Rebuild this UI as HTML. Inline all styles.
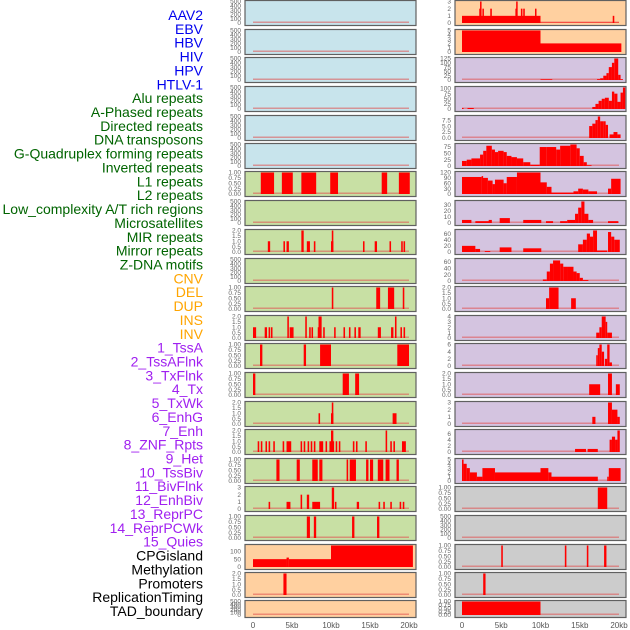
<!DOCTYPE html>
<html><head><meta charset="utf-8">
<style>
body{margin:0;background:#fff;}
svg{display:block;font-family:"Liberation Sans",sans-serif;}
</style></head>
<body>
<svg id="chart" width="630" height="630" viewBox="0 0 630 630" xmlns="http://www.w3.org/2000/svg">
<g id="labels" font-size="14" text-anchor="end"></g>
<g id="panels"></g>
<g id="xaxis" font-size="8" fill="#555" text-anchor="middle"></g>
</svg>
<script>
// ---- labels ----
const labelNames=["AAV2","EBV","HBV","HIV","HPV","HTLV-1","Alu repeats","A-Phased repeats","Directed repeats","DNA transposons","G-Quadruplex forming repeats","Inverted repeats","L1 repeats","L2 repeats","Low_complexity A/T rich regions","Microsatellites","MIR repeats","Mirror repeats","Z-DNA motifs","CNV","DEL","DUP","INS","INV","1_TssA","2_TssAFlnk","3_TxFlnk","4_Tx","5_TxWk","6_EnhG","7_Enh","8_ZNF_Rpts","9_Het","10_TssBiv","11_BivFlnk","12_EnhBiv","13_ReprPC","14_ReprPCWk","15_Quies","CPGisland","Methylation","Promoters","ReplicationTiming","TAD_boundary"];
const labelGroups=[6,13,5,15,5];
const groupColors=["#0000ee","#006400","#ffa500","#a020f0","#000000"];
// ---- x axis ----
const xTicks=[0,5,10,15,20];
const xTickLabels=["0","5kb","10kb","15kb","20kb"];
// ---- panel ticks ----
const T500=["0","100","200","300","400","500"];
const T1=["0.00","0.25","0.50","0.75","1.00"];
const T2=["0.0","0.5","1.0","1.5","2.0"];
// ---- left column data [startKb,endKb,value] ----
const L_L1=[[1,2.7,1],[3.7,5.1,1],[6.2,8.1,1],[9.9,10.9,1],[16.5,17.2,1],[18.7,20.1,1]];
const L_R8=[[1.9,2.2,1],[3.9,4.1,1],[4.3,4.6,1],[6.2,6.5,2],[6.9,7.3,1],[7.8,8.0,1],[10.0,10.3,1],[10.1,10.3,2],[14.1,14.3,1],[15.6,15.9,1],[17.5,17.7,1],[19.0,19.2,1],[19.3,19.5,1]];
const L_R10=[[10.1,10.3,1],[15.8,16.3,1],[17.3,18.1,1],[19.2,19.4,1]];
const L_R11=[[0,0.4,1],[1.5,1.8,1],[2.0,2.2,1],[2.3,2.5,1],[4.4,4.6,2],[4.7,5.2,1],[6.7,6.9,2],[7.2,7.4,1],[7.5,7.7,1],[8.3,8.6,1],[8.4,8.8,2],[9.0,9.2,1],[10.4,10.6,1],[11.6,11.8,1],[12.3,12.5,1],[13.0,13.2,1],[13.5,13.8,1],[16.0,16.4,1],[17.7,18.0,1],[18.2,18.4,2],[18.9,19.1,1],[19.3,19.5,1]];
const L_R12=[[0.9,1.2,1],[6.5,6.8,1],[8.6,10.0,1],[18.5,20.0,1]];
const L_R13=[[0,0.3,1],[11.5,12.3,1],[13.1,13.6,1]];
const L_R14=[[8.4,8.6,1],[10.1,10.3,2],[10.0,10.3,1],[17.9,18.4,1]];
const L_R15=[[0.6,0.8,1],[1.0,1.2,1],[1.6,1.8,1],[2.0,2.2,1],[2.6,2.8,1],[3.8,4.0,1],[4.3,4.9,1],[6.1,6.3,1],[6.5,6.7,1],[7.0,7.2,1],[7.4,7.6,1],[7.8,8.0,1],[8.5,9.0,1],[9.3,9.5,1],[9.8,10.4,1],[10.0,10.3,2],[10.6,10.8,1],[11.0,11.2,1],[12.8,13.0,1],[13.2,13.4,1],[14.4,14.6,1],[17.0,17.2,2],[17.6,17.8,1],[18.0,18.2,1],[19.1,19.6,1]];
const L_R16=[[3.0,3.4,1],[5.6,6.0,1],[7.6,8.3,1],[8.5,8.9,1],[12.0,12.2,1],[12.4,13.2,1],[14.5,14.8,1],[15.0,15.4,1],[16.0,16.7,1],[17.0,17.5,1],[18.4,18.7,1]];
const L_R17=[[2.0,2.2,1],[4.3,4.8,1],[6.1,6.3,2],[6.9,7.2,2],[7.6,8.6,1],[10.1,10.4,3],[10.5,10.7,1],[13.3,13.6,1],[16.1,16.3,1],[16.7,16.9,1],[17.6,17.8,1],[18.8,19.0,1],[19.2,19.4,1]];
const L_R18=[[6.9,7.3,1],[7.8,8.1,1],[12.7,13.0,1],[15.9,16.2,1]];
const L_Meth=[[0,4.3,50],[4.3,4.6,60],[4.6,10,50],[10,20.5,137]];
const L_Prom=[[3.9,4.3,2]];
// ---- right column data ----
const R_AAV=[[0,10,1],[2.2,2.3,2],[2.3,2.4,3],[2.6,2.7,2],[3.6,3.8,2],[6.8,7.0,2],[6.9,7.0,3],[7.5,7.7,2],[7.8,8.0,2],[9.3,9.4,2],[10,20,0.06],[19.2,19.4,1]];
const R_EBV=[[0,10,5],[10,20.3,2]];
const R_HIV=[[10,11.5,4],[17.2,17.6,5],[17.6,18.0,10],[18.0,18.4,25],[18.4,18.7,40],[18.7,19.1,75],[19.1,19.4,100],[19.4,19.9,125],[19.9,20.2,30],[20.2,20.5,5]];
const R_HPV=[[0,0.2,5],[0.7,1.5,5],[16.6,17.0,10],[17.0,17.4,25],[17.4,17.8,40],[17.8,18.2,50],[18.2,18.7,55],[18.7,19.1,40],[19.1,19.4,85],[19.4,19.8,75],[19.8,20.2,35],[20.2,20.5,80],[20.5,20.8,105]];
const R_Alu=[[16.2,16.6,5],[16.6,17.0,6],[17.0,17.3,7.5],[17.3,17.6,9],[17.6,18.0,7],[18.0,18.3,7],[18.3,18.6,5.5],[18.8,19.3,1.5],[19.3,19.8,2.5],[19.8,20.2,1.5]];
const R_GQ=[[0,0.6,20],[0.6,1.2,25],[1.2,2.3,30],[2.3,2.7,45],[2.7,3.1,60],[3.1,3.8,80],[3.8,4.2,65],[4.2,4.6,55],[4.6,5.3,60],[5.3,5.7,55],[5.7,6.3,40],[6.3,7,35],[7,7.8,30],[7.8,8.7,15],[8.7,9.9,5],[9.9,10.8,75],[10.8,12,75],[12,12.5,65],[12.5,13.8,80],[13.8,14.6,85],[14.6,15,70],[15,15.5,40],[15.5,15.9,15],[15.9,16.5,3]];
const R_L1=[[0,2.5,95],[2.5,2.6,100],[2.6,3.3,90],[3.3,3.9,75],[3.9,4.2,55],[4.2,5.3,80],[5.3,5.7,60],[5.7,7,95],[7,10,120],[10,10.8,65],[10.8,11.4,40],[11.4,14.2,8],[14.2,14.8,15],[14.8,15.4,30],[15.4,16.1,25],[16.1,17.2,15],[18.6,19.0,30],[19.0,20.2,85]];
const R_LC=[[0,1.2,5],[1.7,3.5,3],[3.4,3.8,5],[4.8,6.1,8],[7.8,10.1,5],[10.7,11.6,3],[12.5,13.4,3],[13.4,14.4,5],[14.4,14.8,15],[14.8,15.2,25],[15.2,15.6,35],[15.6,16.1,15],[16.1,16.7,5],[18.6,19.9,3]];
const R_MIR=[[0,1.7,20],[1.7,2.3,10],[2.9,3.6,3],[4.8,6.3,15],[7.8,10.1,12],[14.8,15.4,25],[15.4,15.9,40],[15.9,16.3,60],[16.3,16.7,50],[16.7,17.2,70],[17.2,18.5,5],[18.6,19.0,65],[19.0,19.4,50],[19.4,20.1,40]];
const R_Mirror=[[10.3,10.8,5],[10.8,11.2,30],[11.2,11.6,55],[11.6,12.5,65],[12.5,12.9,55],[12.9,13.5,45],[13.5,14.2,45],[14.2,14.6,30],[14.6,15.0,25],[15.0,15.4,10],[15.4,16.1,3]];
const R_Z=[[10.7,11.1,1],[11.1,12.3,2],[13.9,14.5,1]];
const R_R11=[[17.1,17.5,1],[17.5,17.8,2],[17.8,18.3,4],[18.3,18.5,3],[18.5,19.1,1]];
const R_R12=[[17.1,17.3,3],[17.3,17.5,5],[17.5,17.8,6],[17.8,18.1,4],[18.2,18.5,2],[18.5,18.8,6],[18.8,19.1,1]];
const R_R13=[[16.2,17.6,1],[18.6,19.1,2],[19.6,20.1,1]];
const R_R14=[[16.6,17.0,1],[18.6,19.1,3],[19.1,19.8,2],[19.8,20.1,1]];
const R_R15=[[14.4,15.8,1],[16.0,17.3,1],[18.8,19.1,4],[19.1,19.5,5],[19.5,19.8,4],[19.8,20.1,7]];
const R_R16=[[0,0.2,5],[0.2,0.6,4],[0.6,1.0,3],[1.0,1.9,2],[1.9,2.6,1],[2.6,4.2,3],[4.2,10,2],[10,11,3],[11,11.4,2],[11.4,17.3,1],[18.5,18.7,1],[18.7,20.2,3]];
const R_R17=[[17.3,18.5,1]];
const R_CPG=[[5.0,5.2,1],[13.1,13.3,1],[15.9,16.1,1],[18.1,18.4,1]];
const R_Meth=[[2.7,3.0,1]];
const R_TAD=[[0,10,1]];
// ---- panel definitions ----
const leftData=[[],[],[],[],[],[],L_L1,[],L_R8,[],L_R10,L_R11,L_R12,L_R13,L_R14,L_R15,L_R16,L_R17,L_R18,L_Meth,L_Prom,[]];
const leftTicks=[T500,T500,T500,T500,T500,T500,T1,T500,T2,T500,T1,T2,T1,T1,T2,T2,T1,["0","1","2","3"],T1,["0","50","100"],T2,T500];
const leftMax=[500,500,500,500,500,500,1,500,2,500,1,2,1,1,2,2,1,3,1,137,2,500];
const rightData=[R_AAV,R_EBV,R_HIV,R_HPV,R_Alu,R_GQ,R_L1,R_LC,R_MIR,R_Mirror,R_Z,R_R11,R_R12,R_R13,R_R14,R_R15,R_R16,R_R17,[],R_CPG,R_Meth,R_TAD];
const rightTicks=[["0","1","2","3"],["0","1","2","3","4","5"],["0","25","50","75","100","125"],["0","25","50","75","100"],["0.0","2.5","5.0","7.5"],["0","25","50","75"],["0","30","60","90","120"],["0","10","20","30"],["0","20","40","60"],["0","20","40","60"],T2,["0","1","2","3","4"],["0","2","4","6"],T2,["0","1","2","3"],["0","2","4","6"],["0","1","2","3","4","5"],T1,T500,T1,T1,T1];
const rightMax=[3,5,125,105,9,85,120,35,70,68,2,4,6,2,3,7,5,1,500,1,1,1];
const leftBg=["#c8e4ec","#c8e4ec","#c8e4ec","#c8e4ec","#c8e4ec","#c8e4ec","#c8e0a4","#c8e0a4","#c8e0a4","#c8e0a4","#c8e0a4","#c8e0a4","#c8e0a4","#c8e0a4","#c8e0a4","#c8e0a4","#c8e0a4","#c8e0a4","#c8e0a4","#ffd0a0","#ffd0a0","#ffd0a0"];
const rightBg=["#ffd0a0","#ffd0a0","#d4c4e0","#d4c4e0","#d4c4e0","#d4c4e0","#d4c4e0","#d4c4e0","#d4c4e0","#d4c4e0","#d4c4e0","#d4c4e0","#d4c4e0","#d4c4e0","#d4c4e0","#d4c4e0","#d4c4e0","#cccccc","#cccccc","#cccccc","#cccccc","#cccccc"];

const NS="http://www.w3.org/2000/svg";
function mk(tag,attrs,parent){const e=document.createElementNS(NS,tag);for(const k in attrs)e.setAttribute(k,attrs[k]);parent.appendChild(e);return e;}
const rowTop=[0,29,57,86,115,143,171,200,229,258,286,315,343,372,401,429,458,486,515,544,572,600];
function rowH(i){return i===21?17:25;}
const cols=[{x0:245,x1:416,kb0:253,kb20:409,data:leftData,ticks:leftTicks,max:leftMax,bg:leftBg,side:"left"},
            {x0:455,x1:626,kb0:462,kb20:619,data:rightData,ticks:rightTicks,max:rightMax,bg:rightBg,side:"right"}];

// labels
const lg=document.getElementById("labels");
let gi=0,gc=0;
labelNames.forEach((n,i)=>{
  const t=mk("text",{x:203,y:20+i*13.86,fill:groupColors[gi]},lg);
  t.textContent=n;
  
  
  gc++; if(gc>=labelGroups[gi]){gi++;gc=0;}
});

const pg=document.getElementById("panels");
cols.forEach(c=>{
  const xs=kb=>c.kb0+(c.kb20-c.kb0)*kb/20;
  rowTop.forEach((top,i)=>{
    const h=rowH(i);
    const g=mk("g",{},pg);
    
    
    mk("rect",{x:c.x0,y:top+0.5,width:c.x1-c.x0,height:h,fill:c.bg[i],stroke:"#606060","stroke-width":1.2},g);
    const yb=top+h-2, yt=top+1.5;
    const ys=v=>yb-(yb-yt)*Math.min(v,c.max[i])/c.max[i];
    c.ticks[i].forEach(lbl=>{
      const v=parseFloat(lbl);
      const t=mk("text",{x:c.x0-4,y:ys(v)+2.2,"font-size":6.5,fill:"#666","text-anchor":"end"},g);
      t.textContent=lbl;
      
      
    });
    mk("rect",{x:xs(0),y:yb-1.5,width:xs(20)-xs(0),height:1.5,fill:"#e05050",opacity:0.55},g);
    c.data[i].forEach(d=>{
      const r=mk("rect",{x:xs(d[0]),y:ys(d[2]),width:Math.max(1.5,xs(d[1])-xs(d[0])),height:yb-ys(d[2]),fill:"#ff0000"},g);
      
      
    });
  });
  const xg=document.getElementById("xaxis");
  xTicks.forEach((k,j)=>{
    const t=mk("text",{x:xs(k),y:628},xg);
    t.textContent=xTickLabels[j];
    
    
  });
});
</script>
</body></html>
